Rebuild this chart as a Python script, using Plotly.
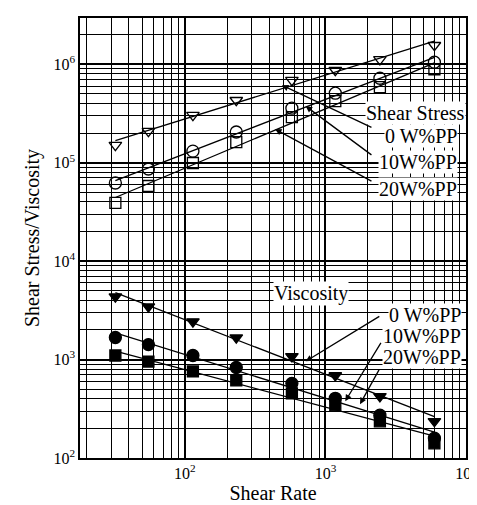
import numpy as np
import plotly.graph_objects as go

shear_rate = [32, 55, 114, 232, 577, 1175, 2440, 5960]

stress_0 = [151000, 209000, 304000, 431000, 689000, 869000, 1120000, 1560000]
stress_10 = [62200, 86300, 131000, 205000, 358000, 508000, 721000, 1050000]
stress_20 = [39100, 58000, 99300, 162000, 290000, 422000, 585000, 890000]

visc_0 = [4350, 3450, 2430, 1670, 1075, 689, 422, 236]
visc_10 = [1675, 1420, 1100, 831, 573, 404, 272, 159]
visc_20 = [1100, 955, 757, 614, 454, 343, 236, 141]

x_tick_vals = [100, 1000, 10000]
x_tick_text = ["10<sup>2</sup>", "10<sup>3</sup>", "10<sup>4</sup>"]
y_tick_vals = [100, 1000, 10000, 100000, 1000000]
y_tick_text = ["10<sup>2</sup>", "10<sup>3</sup>", "10<sup>4</sup>", "10<sup>5</sup>", "10<sup>6</sup>"]

FONT = "Liberation Serif, Times New Roman, serif"

series = [
    (stress_0, "triangle-down-open", 11),
    (stress_10, "circle-open", 12),
    (stress_20, "square-open", 11),
    (visc_0, "triangle-down", 11),
    (visc_10, "circle", 12),
    (visc_20, "square", 11),
]

fig = go.Figure()
lx = np.log10(shear_rate)
for ys, sym, sz in series:
    ly = np.log10(ys)
    k, b = np.polyfit(lx, ly, 1)
    xs = [shear_rate[0], shear_rate[-1]]
    yfit = [10 ** (k * np.log10(v) + b) for v in xs]
    fig.add_trace(go.Scatter(x=xs, y=yfit, mode="lines",
                             line=dict(color="black", width=1.3),
                             showlegend=False, hoverinfo="skip"))
    fig.add_trace(go.Scatter(x=shear_rate, y=ys, mode="markers",
                             marker=dict(symbol=sym, size=sz, color="black",
                                         line=dict(color="black", width=1.3)),
                             showlegend=False))

def lab(text, x, y, xref="x", xanchor="center", size=20):
    fig.add_annotation(text=text, x=x, y=y, xref=xref, yref="y",
                       xanchor=xanchor, yanchor="middle", showarrow=False,
                       bgcolor="white", borderpad=0,
                       font=dict(family=FONT, size=size, color="black"))

lab("Shear Stress", 1.0, 5.504, xref="paper", xanchor="right")
lab("0 W%PP", 0.98, 5.271, xref="paper", xanchor="right")
lab("10W%PP", 0.98, 5.008, xref="paper", xanchor="right")
lab("20W%PP", 0.98, 4.734, xref="paper", xanchor="right")

lab("Viscosity", 2.894, 3.671)
lab("0 W%PP", 0.99, 3.448, xref="paper", xanchor="right")
lab("10W%PP", 0.99, 3.235, xref="paper", xanchor="right")
lab("20W%PP", 0.99, 3.023, xref="paper", xanchor="right")

arrows = [
    (2.690, 5.787, 3.338, 5.352),
    (2.859, 5.575, 3.338, 5.068),
    (2.641, 5.342, 3.338, 4.805),
    (2.859, 2.982, 3.394, 3.448),
    (3.141, 2.577, 3.401, 3.185),
    (3.246, 2.547, 3.387, 2.911),
]
for hx, hy, tx, ty in arrows:
    fig.add_annotation(x=hx, y=hy, ax=tx, ay=ty, xref="x", yref="y",
                       axref="x", ayref="y", text="", showarrow=True,
                       arrowhead=2, arrowsize=1, arrowwidth=1.3,
                       arrowcolor="black")

def minor_vals(lo, hi):
    return [m * 10 ** d for d in range(lo, hi) for m in range(2, 10)]

def axis_common(mvals):
    return dict(
        type="log", showline=True, mirror=True, linecolor="black", linewidth=1.5,
        showgrid=True, gridcolor="black", gridwidth=1.6, zeroline=False,
        ticks="", tickfont=dict(family=FONT, size=16, color="black"),
        ticklabeloverflow="allow",
        minor=dict(tickmode="array", tickvals=mvals, showgrid=True,
                   gridcolor="black", gridwidth=1, ticks=""),
    )

fig.update_xaxes(range=[1.2535, 4.0], tickvals=x_tick_vals, ticktext=x_tick_text,
                 title=dict(text="Shear Rate", font=dict(family=FONT, size=20, color="black"),
                            standoff=4),
                 **axis_common(minor_vals(1, 4)))
fig.update_yaxes(range=[2.0, 6.47], tickvals=y_tick_vals, ticktext=y_tick_text,
                 title=dict(text="Shear Stress/Viscosity",
                            font=dict(family=FONT, size=20, color="black"), standoff=8),
                 **axis_common(minor_vals(2, 7)))

fig.update_layout(width=477, height=505, autosize=False,
                  margin=dict(l=72, r=15, t=8, b=55),
                  plot_bgcolor="white", paper_bgcolor="white")

fig.write_html("out.html")
